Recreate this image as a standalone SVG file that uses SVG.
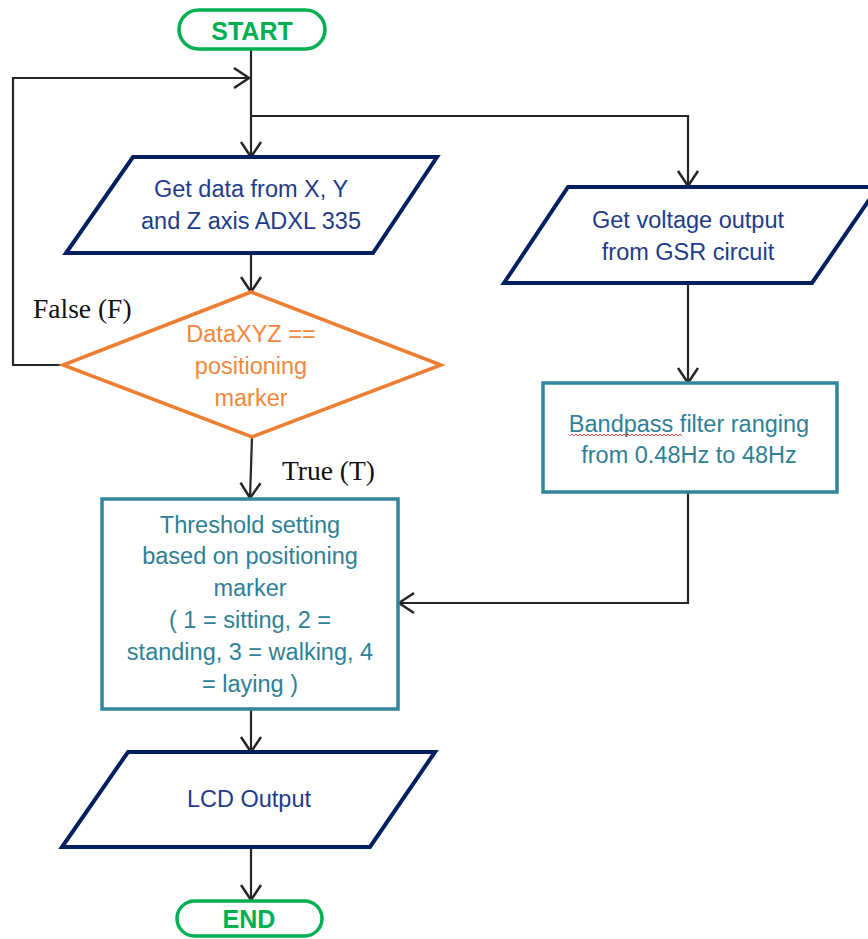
<svg xmlns="http://www.w3.org/2000/svg" width="868" height="939" viewBox="0 0 868 939">
<defs>
<style>
.term{fill:#fff;stroke:#00B050;stroke-width:3.5}
.termt{font-family:"Liberation Sans",Arial,sans-serif;font-weight:bold;font-size:25px;fill:#00B050;text-anchor:middle}
.io{fill:#fff;stroke:#002060;stroke-width:4;stroke-linejoin:miter}
.iot{font-family:"Liberation Sans",Arial,sans-serif;font-size:23.5px;fill:#1F3C88;text-anchor:middle}
.dec{fill:#fff;stroke:#ED7D31;stroke-width:3.5}
.dect{font-family:"Liberation Sans",Arial,sans-serif;font-size:23.5px;fill:#F0883E;text-anchor:middle}
.proc{fill:#fff;stroke:#31859C;stroke-width:3.5}
.proct{font-family:"Liberation Sans",Arial,sans-serif;font-size:23.5px;fill:#2F7F96;text-anchor:middle}
.conn{fill:none;stroke:#262626;stroke-width:2.2;marker-end:url(#arr)}
.lbl{font-family:"Liberation Serif","Times New Roman",serif;font-size:27.5px;fill:#111}
</style>
<marker id="arr" markerUnits="userSpaceOnUse" viewBox="-17 -12 19 24" refX="0" refY="0" markerWidth="19" markerHeight="24" orient="auto" overflow="visible">
<path d="M-15,-10 L0,0 L-15,10" fill="none" stroke="#262626" stroke-width="2.5"/>
</marker>
</defs>
<g id="connectors">
<path class="conn" d="M251,49 V157"/>
<path class="conn" d="M251,116 H688 V186"/>
<path class="conn" d="M251,253 V292"/>
<path class="conn" d="M63,365 H13 V78 H249"/>
<path class="conn" d="M252,437 L250,498"/>
<path class="conn" d="M688,283 V383"/>
<path class="conn" d="M688,492 V603 H399"/>
<path class="conn" d="M251,709 V752"/>
<path class="conn" d="M251,847 V900"/>
<text class="lbl" x="33" y="318">False (F)</text>
<text class="lbl" x="282" y="480">True (T)</text>
</g>
<g id="start">
<rect class="term" x="179" y="10" width="146" height="39" rx="19.5"/>
<text class="termt" x="252" y="40">START</text>
</g>
<g id="getxyz">
<polygon class="io" points="133,157 437,157 373,253 66,253"/>
<text class="iot" x="251" y="197">Get data from X, Y</text>
<text class="iot" x="251" y="229">and Z axis ADXL 335</text>
</g>
<g id="decision">
<polygon class="dec" points="251,292 441,365 252,437 63,365"/>
<text class="dect" x="251" y="342">DataXYZ ==</text>
<text class="dect" x="251" y="374">positioning</text>
<text class="dect" x="251" y="406">marker</text>
</g>
<g id="gsr">
<polygon class="io" points="568,187 878,187 812,283 504,283"/>
<text class="iot" x="688" y="228">Get voltage output</text>
<text class="iot" x="688" y="260">from GSR circuit</text>
</g>
<g id="bandpass">
<rect class="proc" x="543" y="383" width="294" height="109"/>
<text class="proct" x="689" y="432">Bandpass filter ranging</text>
<text class="proct" x="689" y="463">from 0.48Hz to 48Hz</text>
<path d="M570,436 l2,-2 l2,2 l2,-2 l2,2 l2,-2 l2,2 l2,-2 l2,2 l2,-2 l2,2 l2,-2 l2,2 l2,-2 l2,2 l2,-2 l2,2 l2,-2 l2,2 l2,-2 l2,2 l2,-2 l2,2 l2,-2 l2,2 l2,-2 l2,2 l2,-2 l2,2 l2,-2 l2,2 l2,-2 l2,2 l2,-2 l2,2 l2,-2 l2,2 l2,-2 l2,2 l2,-2 l2,2 l2,-2 l2,2 l2,-2 l2,2 l2,-2 l2,2 l2,-2 l2,2 l2,-2 l2,2 l2,-2 l2,2 l2,-2 l2,2 l2,-2 l2,2" fill="none" stroke="#E03030" stroke-width="0.9"/>
</g>
<g id="threshold">
<rect class="proc" x="102" y="499" width="296" height="210"/>
<text class="proct" x="250" y="533">Threshold setting</text>
<text class="proct" x="250" y="564">based on positioning</text>
<text class="proct" x="250" y="596">marker</text>
<text class="proct" x="250" y="628">( 1 = sitting, 2 =</text>
<text class="proct" x="250" y="660">standing, 3 = walking, 4</text>
<text class="proct" x="250" y="692">= laying )</text>
</g>
<g id="lcd">
<polygon class="io" points="128,752 435,752 370,847 62,847"/>
<text class="iot" x="249" y="807">LCD Output</text>
</g>
<g id="end">
<rect class="term" x="177" y="901" width="145" height="35" rx="17.5"/>
<text class="termt" x="249" y="928">END</text>
</g>
</svg>
